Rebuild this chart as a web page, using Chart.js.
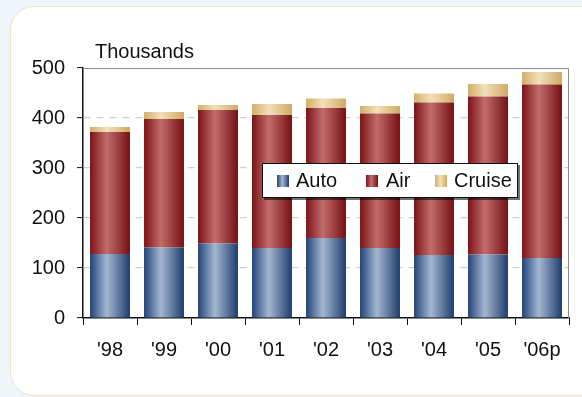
<!DOCTYPE html>
<html>
<head>
<meta charset="utf-8">
<script src="https://cdn.jsdelivr.net/npm/chart.js@4/dist/chart.umd.min.js"></script>
<style>
  html, body { margin: 0; padding: 0; background: #eef6f9; }
  body { width: 582px; height: 397px; position: relative; overflow: hidden; }
  #card {
    position: absolute; left: 10px; top: 6px; width: 620px; height: 388px;
    background: #fff; border: 1px solid #efe2c6; border-radius: 24px;
  }
  #wrap { position: absolute; left: 0; top: 0; width: 582px; height: 397px; }
</style>
</head>
<body>
<div id="card"></div>
<div id="wrap"><canvas id="chart"></canvas></div>
<script>
// ------------------------- data -------------------------
const years  = ["'98", "'99", "'00", "'01", "'02", "'03", "'04", "'05", "'06p"];
const auto   = [128, 141, 149, 140, 160, 140, 126, 127, 120];
const air    = [244, 257, 267, 266, 260, 269, 305, 316, 347];
const cruise = [10, 14, 10, 22, 19, 15, 18, 25, 25];
const yTicks = [0, 100, 200, 300, 400, 500];

const FONT = "'Liberation Sans', Arial, sans-serif";

// couleurs (bord sombre, centre clair)
const palette = {
    Auto:   ["#22437a", "#a3b7cf", "#1f3c6e"],
    Air:    ["#7c1315", "#c26c6c", "#761012"],
    Cruise: ["#d2ae6c", "#f3e0b8", "#cfa965"]
};
const BAR_FRAC = 0.74;

function barGradient(context) {
    const chart = context.chart;
    const cols = palette[context.dataset.label];
    const xs = chart.scales.x;
    if (!xs || context.dataIndex === undefined) return cols[0];
    const cx = xs.getPixelForValue(context.dataIndex);
    const half = xs.width / years.length * BAR_FRAC / 2;
    if (!isFinite(cx) || !isFinite(half) || half <= 0) return cols[0];
    const g = chart.ctx.createLinearGradient(cx - half, 0, cx + half, 0);
    g.addColorStop(0, cols[0]);
    g.addColorStop(0.42, cols[1]);
    g.addColorStop(1, cols[2]);
    return g;
}

// titre "Thousands", cadre gris, legende
const extras = {
    id: 'extras',
    afterDraw(chart) {
        const c = chart.ctx;
        const a = chart.chartArea;
        c.save();
        // cadre haut / droite
        c.strokeStyle = '#8a8a8a';
        c.lineWidth = 1;
        c.beginPath();
        c.moveTo(a.left, a.top + 0.5);
        c.lineTo(a.right - 0.5, a.top + 0.5);
        c.lineTo(a.right - 0.5, a.bottom);
        c.stroke();

        // titre
        c.fillStyle = '#111';
        c.font = '20px ' + FONT;
        c.textBaseline = 'middle';
        c.textAlign = 'left';
        c.fillText('Thousands', a.left + 12, a.top - 16);

        // legende
        const lx = 262, ly = 163, lw = 256, lh = 35;
        c.fillStyle = 'rgba(0,0,0,0.55)';
        c.fillRect(lx + 2, ly + 2, lw, lh);
        c.fillStyle = '#fff';
        c.fillRect(lx, ly, lw, lh);
        c.strokeStyle = '#111';
        c.lineWidth = 1;
        c.strokeRect(lx + 0.5, ly + 0.5, lw - 1, lh - 1);

        const items = [
            { name: 'Auto',   mx: 277, tx: 296 },
            { name: 'Air',    mx: 366, tx: 386 },
            { name: 'Cruise', mx: 435, tx: 454 }
        ];
        items.forEach(function (it) {
            const cols = palette[it.name];
            const g = c.createLinearGradient(it.mx, 0, it.mx + 12, 0);
            g.addColorStop(0, cols[0]);
            g.addColorStop(0.45, cols[1]);
            g.addColorStop(1, cols[2]);
            c.fillStyle = g;
            c.fillRect(it.mx, ly + 12, 12, 12);
            c.fillStyle = '#111';
            c.fillText(it.name, it.tx, ly + lh / 2 + 1);
        });
        c.restore();
    }
};

function makeSet(label, data) {
    return {
        label: label,
        data: data,
        backgroundColor: barGradient,
        borderWidth: 0,
        barPercentage: 1,
        categoryPercentage: BAR_FRAC,
        stack: 's'
    };
}

Chart.defaults.font.family = FONT;
Chart.defaults.color = '#111';

const myChart = new Chart(document.getElementById('chart'), {
    type: 'bar',
    data: {
        labels: years,
        datasets: [makeSet('Auto', auto), makeSet('Air', air), makeSet('Cruise', cruise)]
    },
    options: {
        responsive: true,
        maintainAspectRatio: false,
        animation: false,
        layout: { padding: { left: 0, top: 68, right: 13, bottom: 0 } },
        plugins: {
            legend: { display: false },
            tooltip: { enabled: false }
        },
        scales: {
            x: {
                stacked: true,
                grid: {
                    offset: true,
                    drawOnChartArea: false,
                    drawTicks: true,
                    tickLength: 7,
                    tickColor: '#111',
                    tickWidth: 1
                },
                border: { display: true, color: '#111', width: 1.5 },
                ticks: { font: { size: 20 }, padding: 13, maxRotation: 0 },
                afterFit: function (s) { s.height = 397 - 318; }
            },
            y: {
                stacked: true,
                min: yTicks[0],
                max: yTicks[yTicks.length - 1],
                afterBuildTicks: function (s) { s.ticks = yTicks.map(v => ({ value: v })); },
                grid: {
                    color: ctx => (ctx.tick && (ctx.tick.value === 0 || ctx.tick.value === 500)) ? 'rgba(0,0,0,0)' : '#cfcfcf',
                    lineWidth: 1.2,
                    drawTicks: true,
                    tickLength: 6,
                    tickColor: '#111',
                    tickWidth: 1
                },
                border: { display: true, color: '#111', width: 1.5, dash: [7, 6] },
                ticks: { font: { size: 20 }, padding: 12 },
                afterFit: function (s) { s.width = 83; }
            }
        }
    },
    plugins: [extras]
});
</script>
</body>
</html>
